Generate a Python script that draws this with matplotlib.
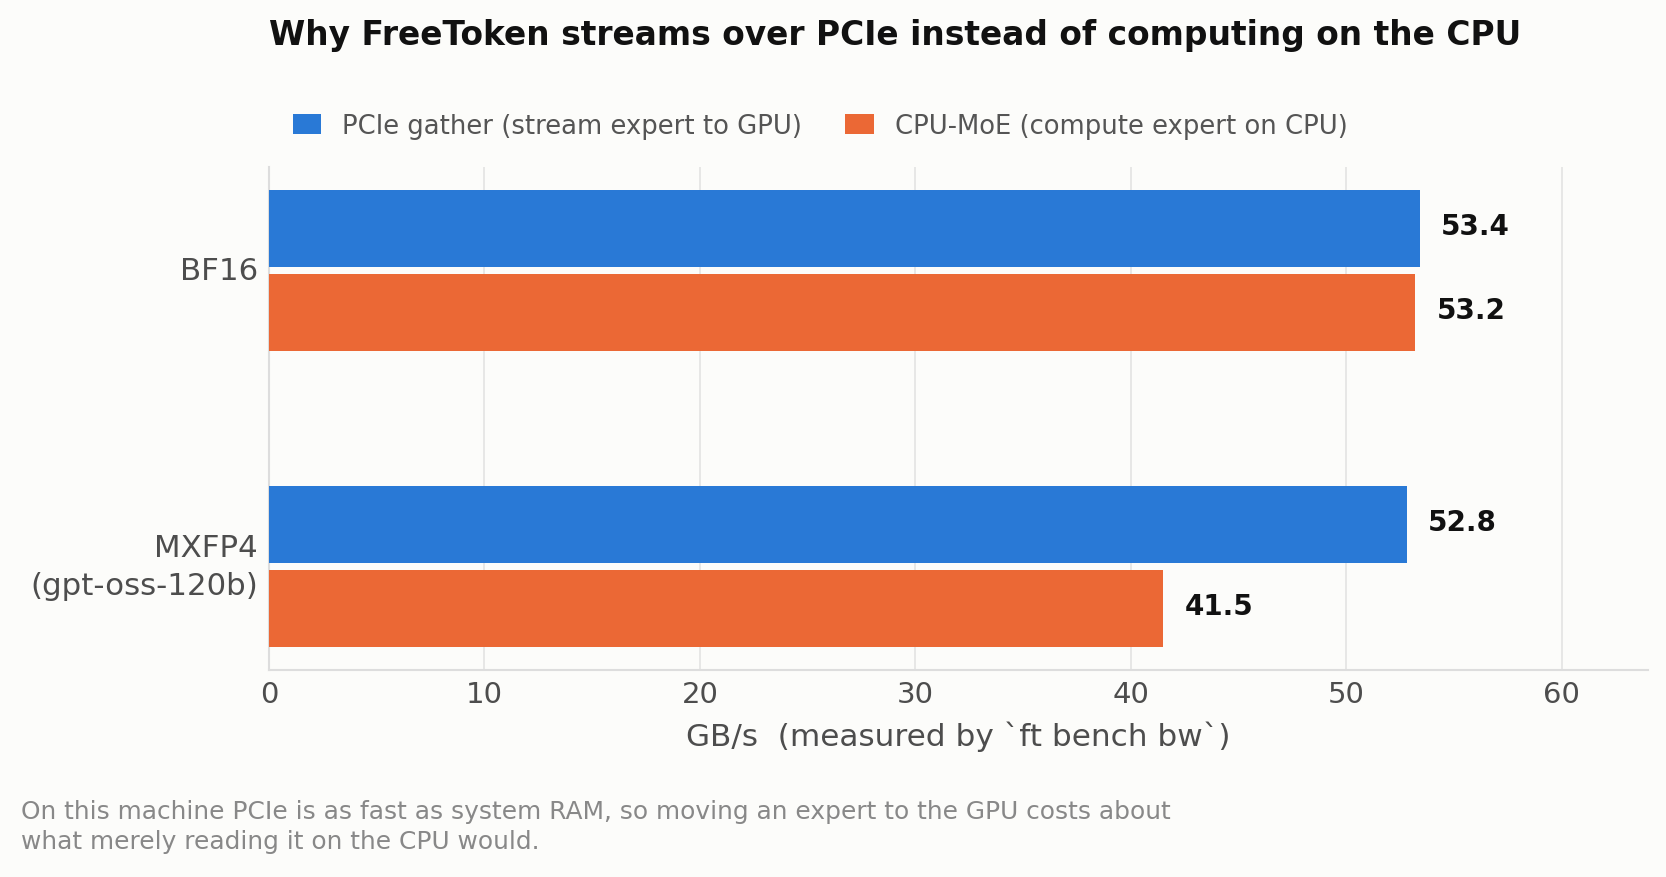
import numpy as np
import matplotlib.pyplot as plt

# data
categories = ['BF16', 'MXFP4\n(gpt-oss-120b)']
series_names = ['PCIe gather (stream expert to GPU)', 'CPU-MoE (compute expert on CPU)']
pcie_gather = [53.4, 52.8]
cpu_moe = [53.2, 41.5]
xticks = [0, 10, 20, 30, 40, 50, 60]

bg = '#fcfcfa'
blue = '#2979d6'
orange = '#eb6835'
W, H = 1666, 878

fig = plt.figure(figsize=(W / 100, H / 100), dpi=100, facecolor=bg)
ax = fig.add_axes([269 / W, 1 - 671 / H, 1379 / W, 503 / H], facecolor=bg)

y = np.arange(len(categories))
off, bh = 0.142, 0.26
b1 = ax.barh(y - off, pcie_gather, height=bh, color=blue, label=series_names[0], zorder=3)
b2 = ax.barh(y + off, cpu_moe, height=bh, color=orange, label=series_names[1], zorder=3)

# value labels
for bars, vals in [(b1, pcie_gather), (b2, cpu_moe)]:
    for bar, v in zip(bars, vals):
        ax.annotate(f'{v:.1f}', xy=(v, bar.get_y() + bar.get_height() / 2),
                    xytext=(15.5, 2), textcoords='offset points',
                    ha='left', va='center', fontsize=20, fontweight='bold', color='#111111')

ax.set_xlim(0, 64)
ax.set_ylim(1.35, -0.35)
ax.set_xticks(xticks)
ax.set_yticks(y)
ax.set_yticklabels(categories, linespacing=1.38)
ax.tick_params(axis='x', length=0, pad=7, labelsize=21, labelcolor='#4d4d4d')
ax.tick_params(axis='y', length=0, pad=8, labelsize=22.2, labelcolor='#4d4d4d')
for lab in ax.get_yticklabels():
    lab.set_verticalalignment('center')
ax.grid(axis='x', color='#e3e3e3', linewidth=1.2, zorder=0)
ax.set_axisbelow(True)
for s in ['top', 'right']:
    ax.spines[s].set_visible(False)
for s in ['left', 'bottom']:
    ax.spines[s].set_color('#dddddd')
    ax.spines[s].set_linewidth(1.5)

ax.set_xlabel('GB/s  (measured by `ft bench bw`)', fontsize=22.4, color='#4d4d4d')
ax.xaxis.set_label_coords(0.5, -0.1)

fig.text(269 / W, 1 - 45 / H, 'Why FreeToken streams over PCIe instead of computing on the CPU',
         ha='left', va='baseline', fontsize=23.7, fontweight='bold', color='#111111')

fig.legend(loc='center', bbox_to_anchor=(820 / W, 1 - 127 / H), ncol=2, frameon=False,
           fontsize=18.6, labelcolor='#555555', handlelength=1.11, handleheight=0.82,
           handletextpad=0.82, columnspacing=1.65)

fig.text(21 / W, 1 - 800 / H,
         'On this machine PCIe is as fast as system RAM, so moving an expert to the GPU costs about\n'
         'what merely reading it on the CPU would.',
         ha='left', va='top', fontsize=17.9, color='#888888', linespacing=1.3)

fig.savefig('out.png', dpi=100, facecolor=bg)
